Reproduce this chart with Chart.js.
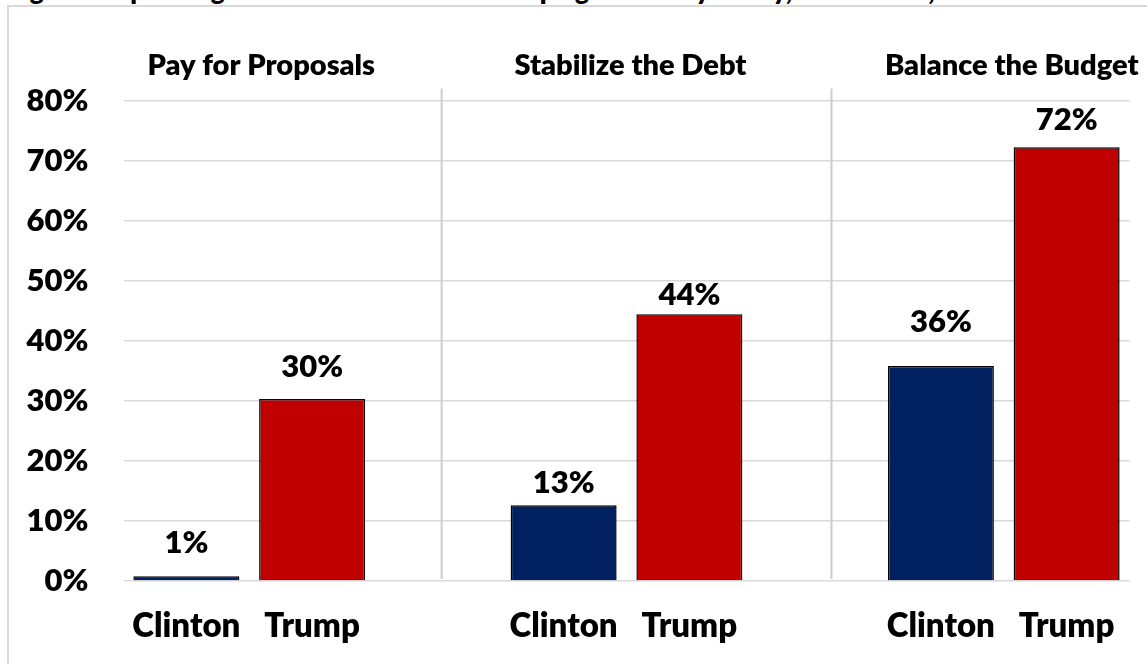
<!DOCTYPE html>
<html>
<head>
<meta charset="utf-8">
<script src="https://cdn.jsdelivr.net/npm/chart.js@4.4.1/dist/chart.umd.min.js"></script>
<style>
  html, body { margin: 0; padding: 0; background: #ffffff; overflow: hidden; }
  #wrap { position: relative; width: 1147px; height: 664px; overflow: hidden; }
  #frame { position: absolute; left: 7px; top: 5px; width: 1200px; height: 700px;
           border: 2px solid #d9d9d9; box-sizing: border-box; }
  #title { position: absolute; left: 8px; top: -26px; white-space: nowrap;
           font-family: Lato, "Open Sans", sans-serif; font-weight: 800; font-size: 26px; color: #000; }
  #c { position: absolute; left: 0; top: 0; }
</style>
</head>
<body>
<div id="wrap">
  <div id="title">Figure 1: Spending Cuts Needed to Meet Campaign Goals by Policy, 2017-2026, ...</div>
  <div id="frame"></div>
  <canvas id="c" width="1147" height="664"></canvas>
</div>
<script>
// ---- data ----
const groups = ["Pay for Proposals", "Stabilize the Debt", "Balance the Budget"];
const candidates = ["Clinton", "Trump"];
const clintonValues = [0.8, 12.6, 35.8];
const trumpValues = [30.3, 44.4, 72.2];
const yMin = 0, yMax = 80, yStep = 10;

// ---- build slots (blank slot between groups) ----
const labels = [];
const clintonData = [];
const trumpData = [];
groups.forEach((g, i) => {
  labels.push(candidates[0], candidates[1]);
  clintonData.push(clintonValues[i], null);
  trumpData.push(null, trumpValues[i]);
  if (i < groups.length - 1) { labels.push(""); clintonData.push(null); trumpData.push(null); }
});

// ---- style config ----
const FONT = 'Lato, "Open Sans", sans-serif';
const W = 800;
const labelLift = [[23, 12, 34], [22, 9, 17]]; // gap between bar top and value label (Clinton, Trump)
const titleShift = [12, 4, 8];
const separatorSlots = [2.03, 5.13];

const overlayPlugin = {
  id: 'overlay',
  afterDatasetsDraw(chart) {
    const ctx = chart.ctx;
    const xs = chart.scales.x;
    const area = chart.chartArea;
    const slotW = (xs.right - xs.left) / labels.length;
    // separators
    ctx.save();
    ctx.strokeStyle = '#cccccc';
    ctx.lineWidth = 2;
    separatorSlots.forEach(s => {
      const x = xs.left + (s + 0.5) * slotW;
      ctx.beginPath();
      ctx.moveTo(x, area.top - 12);
      ctx.lineTo(x, area.bottom - 2);
      ctx.stroke();
    });
    ctx.restore();
    // group titles
    ctx.save();
    ctx.fillStyle = '#000';
    ctx.font = W + ' 29px ' + FONT;
    ctx.textAlign = 'center';
    ctx.textBaseline = 'alphabetic';
    groups.forEach((g, i) => {
      const x = (xs.getPixelForValue(3 * i) + xs.getPixelForValue(3 * i + 1)) / 2 + titleShift[i];
      ctx.fillText(g, x, 75);
    });
    // value labels
    ctx.font = W + ' 31px ' + FONT;
    chart.data.datasets.forEach((ds, di) => {
      const meta = chart.getDatasetMeta(di);
      let k = 0;
      meta.data.forEach((el, idx) => {
        const v = ds.data[idx];
        if (v === null || v === undefined) return;
        ctx.fillText(Math.round(v) + '%', el.x, el.y - labelLift[di][k]);
        k++;
      });
    });
    ctx.restore();
  }
};

new Chart(document.getElementById('c'), {
  type: 'bar',
  data: {
    labels: labels,
    datasets: [
      { label: candidates[0], data: clintonData, backgroundColor: '#002060',
        borderColor: '#000000', borderWidth: 1.5 },
      { label: candidates[1], data: trumpData, backgroundColor: '#C00000',
        borderColor: '#000000', borderWidth: 1.5 }
    ]
  },
  options: {
    responsive: false,
    animation: false,
    devicePixelRatio: 1,
    grouped: false,
    barPercentage: 0.843,
    categoryPercentage: 1.0,
    layout: { padding: { top: 100.5, right: 17.5, left: 0, bottom: 0 } },
    plugins: { legend: { display: false }, tooltip: { enabled: false }, title: { display: false } },
    scales: {
      x: {
        grid: { display: false, drawTicks: false },
        border: { display: false },
        ticks: { color: '#000', font: { family: FONT, size: 33, weight: W }, padding: 26,
                 maxRotation: 0, autoSkip: false },
        afterFit(scale) { scale.height = 83; }
      },
      y: {
        min: yMin, max: yMax,
        grid: { color: '#d9d9d9', lineWidth: 1.5, drawTicks: false },
        border: { display: false },
        ticks: { stepSize: yStep, color: '#000', padding: 35,
                 font: { family: FONT, size: 31, weight: W },
                 callback: v => v + '%' },
        afterFit(scale) { scale.width = 123.5; }
      }
    }
  },
  plugins: [overlayPlugin]
});
</script>
</body>
</html>
